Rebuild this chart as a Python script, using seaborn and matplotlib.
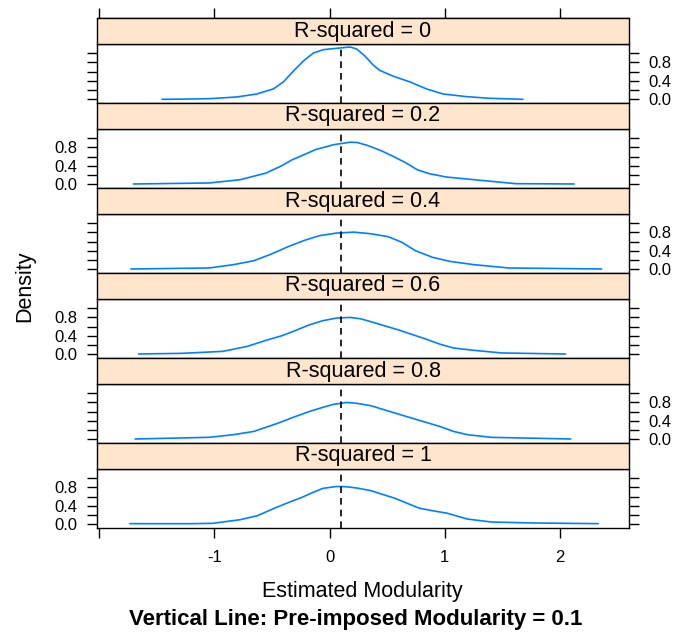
import numpy as np
import pandas as pd
import matplotlib
matplotlib.use("Agg")
import matplotlib.pyplot as plt
from matplotlib.patches import Rectangle
import seaborn as sns

# niveaux de R-squared (un panneau par niveau, du haut vers le bas)
rsq_levels = ["0", "0.2", "0.4", "0.6", "0.8", "1"]

# courbes de densité
x_r00 = [-1.455, -1.268, -1.036, -0.805, -0.632, -0.488, -0.401, -0.315, -0.228,
         -0.141, -0.055, 0.032, 0.119, 0.177, 0.235, 0.307, 0.379, 0.437, 0.552,
         0.697, 0.841, 0.985, 1.188, 1.39, 1.679]
d_r00 = [0.0, 0.004, 0.015, 0.051, 0.116, 0.226, 0.378, 0.611, 0.83,
         1.004, 1.077, 1.099, 1.121, 1.135, 1.092, 0.939, 0.742, 0.626, 0.502,
         0.378, 0.226, 0.116, 0.058, 0.022, 0.0]

x_r02 = [-1.704, -1.046, -0.777, -0.553, -0.418, -0.328, -0.209, -0.119, -0.03,
         0.03, 0.18, 0.24, 0.33, 0.449, 0.568, 0.658, 0.763, 0.868, 1.017, 1.256,
         1.436, 1.615, 2.123]
d_r02 = [0.007, 0.029, 0.1, 0.243, 0.4, 0.529, 0.657, 0.757, 0.814,
         0.857, 0.914, 0.907, 0.843, 0.729, 0.586, 0.471, 0.314, 0.229, 0.157, 0.1,
         0.057, 0.014, 0.007]

x_r04 = [-1.725, -1.046, -0.837, -0.658, -0.508, -0.359, -0.209, -0.089, 0.06,
         0.21, 0.359, 0.509, 0.628, 0.748, 0.898, 1.047, 1.256, 1.555, 2.362]
d_r04 = [0.007, 0.029, 0.1, 0.186, 0.329, 0.493, 0.636, 0.729, 0.786,
         0.807, 0.771, 0.707, 0.586, 0.4, 0.257, 0.171, 0.1, 0.029, 0.007]

x_r06 = [-1.659, -1.285, -0.927, -0.717, -0.538, -0.418, -0.299, -0.179, -0.06,
         0.06, 0.18, 0.27, 0.359, 0.598, 0.838, 0.957, 1.077, 1.256, 1.496, 2.049]
d_r06 = [0.007, 0.021, 0.064, 0.171, 0.314, 0.4, 0.514, 0.636, 0.729,
         0.786, 0.8, 0.771, 0.707, 0.529, 0.329, 0.221, 0.136, 0.086, 0.029, 0.007]

x_r08 = [-1.689, -1.046, -0.837, -0.658, -0.448, -0.299, -0.179, -0.089, 0.03,
         0.15, 0.24, 0.359, 0.509, 0.718, 0.957, 1.077, 1.197, 1.406, 2.094]
d_r08 = [0.007, 0.043, 0.1, 0.171, 0.35, 0.493, 0.6, 0.671, 0.757,
         0.8, 0.779, 0.729, 0.614, 0.457, 0.279, 0.171, 0.1, 0.043, 0.007]

x_r10 = [-1.734, -1.196, -1.016, -0.777, -0.628, -0.478, -0.359, -0.239, -0.149,
         -0.06, 0.06, 0.15, 0.24, 0.359, 0.568, 0.778, 0.898, 1.017, 1.197, 1.406,
         1.765, 2.333]
d_r10 = [0.014, 0.014, 0.021, 0.1, 0.186, 0.35, 0.471, 0.586, 0.686,
         0.779, 0.821, 0.814, 0.786, 0.729, 0.564, 0.35, 0.293, 0.243, 0.114, 0.05,
         0.029, 0.014]

imposed_modularity = 0.1

x_ticks = [-2, -1, 0, 1, 2]
x_ticklabels = ["", "-1", "0", "1", "2"]
y_ticks = [0.0, 0.2, 0.4, 0.6, 0.8, 1.0]
y_ticklabels = ["0.0", "", "0.4", "", "0.8", ""]

frames = []
for lev, xs, ds in zip(rsq_levels,
                       [x_r00, x_r02, x_r04, x_r06, x_r08, x_r10],
                       [d_r00, d_r02, d_r04, d_r06, d_r08, d_r10]):
    frames.append(pd.DataFrame({"rsq": lev, "x": xs, "density": ds}))
df = pd.concat(frames, ignore_index=True)

sns.set_theme(style="white")
plt.rcParams["font.family"] = ["Liberation Sans", "DejaVu Sans"]

g = sns.FacetGrid(df, row="rsq", row_order=rsq_levels, sharex=True, sharey=True,
                  despine=False, height=1, aspect=6)
g.map_dataframe(sns.lineplot, x="x", y="density", color="#0080ff", lw=1.2,
                solid_joinstyle="round", solid_capstyle="round")
g.set_titles("")
g.set_axis_labels("", "")

fig = g.figure
fig.set_size_inches(6.76, 6.35)
fig.subplots_adjust(left=97 / 676, right=629 / 676, top=1 - 44 / 635,
                    bottom=1 - 528 / 635, hspace=26 / 59)

strip_h = 26 / 59
n = len(rsq_levels)
for i, (ax, lev) in enumerate(zip(g.axes.flat, rsq_levels)):
    ax.set_xlim(-2.02, 2.6)
    ax.set_ylim(-0.08, 1.2)
    ax.axvline(imposed_modularity, color="black", ls=(0, (4, 3)), lw=1.2)

    ax.set_xticks(x_ticks)
    ax.set_xticklabels(x_ticklabels)
    ax.set_yticks(y_ticks)
    ax.set_yticklabels(y_ticklabels)
    ax.set_xlabel("")
    ax.set_ylabel("")

    # étiquettes en alternance droite / gauche comme dans lattice
    ax.tick_params(axis="y", left=True, right=True,
                   labelleft=(i % 2 == 1), labelright=(i % 2 == 0),
                   direction="out", length=7, width=1, color="black",
                   labelsize=12, pad=7, labelcolor="black")
    ax.tick_params(axis="x", bottom=(i == n - 1), top=False,
                   labelbottom=(i == n - 1), labeltop=False,
                   direction="out", length=7, width=1, color="black",
                   labelsize=12, pad=9, labelcolor="black")
    for sp in ax.spines.values():
        sp.set_color("black")
        sp.set_linewidth(1)

    # bandeau de titre façon lattice
    ax.add_patch(Rectangle((0, 1), 1, strip_h, transform=ax.transAxes,
                           facecolor="#ffe5cc", edgecolor="black", lw=1,
                           clip_on=False, zorder=3))
    ax.text(0.5, 1 + strip_h / 2, f"R-squared = {lev}", transform=ax.transAxes,
            ha="center", va="center", fontsize=15.5, color="black", zorder=4)

    if i == 0:
        sec = ax.secondary_xaxis(1 + strip_h)
        sec.set_xticks(x_ticks)
        sec.tick_params(axis="x", top=True, labeltop=False, direction="out",
                        length=7, width=1, color="black")
        sec.spines["top"].set_linewidth(1)
        sec.spines["top"].set_color("black")

fig.text(25 / 676, 1 - 286 / 635, "Density", rotation=90, ha="center",
         va="center", fontsize=15.5, color="black")
fig.text(362 / 676, 1 - 592 / 635, "Estimated Modularity", ha="center",
         va="center", fontsize=15.5, color="black")
fig.text(356 / 676, 1 - 620 / 635, "Vertical Line: Pre-imposed Modularity = 0.1",
         ha="center", va="center", fontsize=16, fontweight="bold", color="black")

fig.savefig("out.png", dpi=100)
